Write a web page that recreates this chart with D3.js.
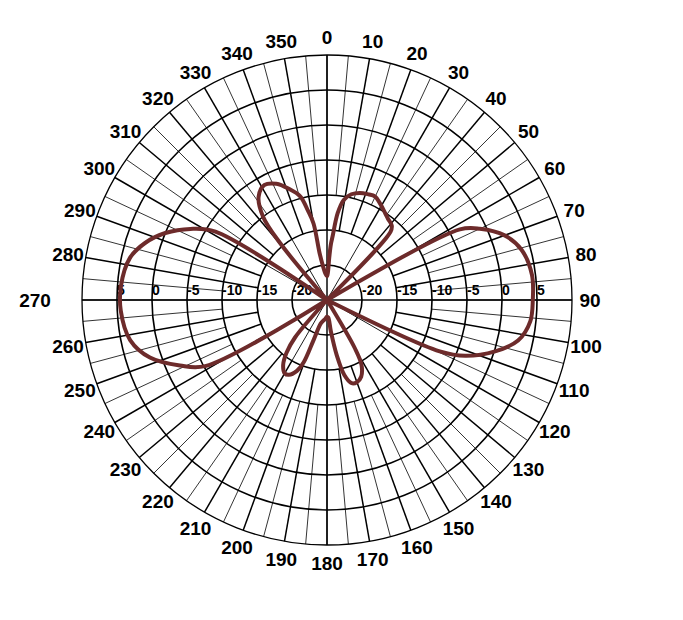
<!DOCTYPE html>
<html><head><meta charset="utf-8">
<script src="https://cdn.jsdelivr.net/npm/d3@7"></script>
<style>body{margin:0;background:#fff}svg{display:block}</style>
</head><body>
<svg id="chart" width="683" height="620"></svg>
<script>
// ---- data ----
const angleTicks = d3.range(0, 360, 10);
const angleTickLabels = angleTicks.map(d => String(d));
const ringValues = [-20, -15, -10, -5, 0, 5, 10];
const ringLabels = ["-20", "-15", "-10", "-5", "0", "5"];
// radiation pattern (degrees, dB); values at or below -25 sit at the centre
const patternAngles = [0, 2, 3, 4, 5, 7, 9.5, 13, 17, 21, 25, 29, 34, 37, 41, 43, 44.5, 52, 60,
  62, 65, 70, 75.5, 83, 90, 96, 102, 107, 112, 114.5, 116.5, 130, 148,
  150, 152, 156, 160, 163.5, 167, 170, 173, 176, 180, 185, 190, 195, 198.5, 200.5, 203, 207, 210, 214, 217.5, 220.5, 223, 232,
  240, 241.5, 246, 252, 258.5, 267, 274, 282, 287.5, 292.5, 297.5, 301.5, 303, 310, 318,
  320.5, 322.5, 326.5, 331.5, 336.5, 341, 345.5, 348, 350, 351, 353, 356.5];
const patternValues = [-21.6, -21, -19, -17, -15.9, -12.5, -10.5, -9.5, -9, -8.8, -8.7, -9.3, -10.1, -10.5, -10.9, -11.7, -25, -25, -25,
  -3.5, -0.9, 2, 3.7, 4.5, 4.4, 4.2, 2.9, 0.1, -3.7, -7.3, -25, -25, -25,
  -17, -14.5, -13, -12.5, -12.6, -14, -17, -20.5, -22.5, -22.6, -22.3, -22, -21.5, -19, -15.5, -14, -13, -12.9, -13.8, -15.5, -18, -25, -25,
  -25, -5.2, -2, 1.6, 3.7, 4.5, 4.5, 3.8, 2.2, 0, -3, -6.3, -25, -25, -25,
  -14.5, -10, -7.3, -6.3, -6.9, -8.2, -9.7, -12, -13.9, -18.2, -20, -21.2];

// ---- layout ----
const svg = d3.select("#chart");
const cx = 327, cy = 300, R = 245;
const rScale = d3.scaleLinear().domain([-25, 10]).range([0, R]);
const aScale = d3.scaleLinear().domain([0, 360]).range([0, 2 * Math.PI]);
const g = svg.append("g").attr("transform", `translate(${cx},${cy})`);
const pt = (ang, rad) => [rad * Math.sin(aScale(ang)), -rad * Math.cos(aScale(ang))];
const FONT = "Liberation Sans, Arial, sans-serif";

// spokes
const spokes = [];
d3.range(0, 360, 30).forEach(a => spokes.push({a, r0: 0, r1: rScale(-15), w: 0.9}));
d3.range(0, 360, 10).forEach(a => spokes.push({a, r0: rScale(-15), r1: R, w: 1.5}));
d3.range(5, 360, 10).forEach(a => spokes.push({a, r0: rScale(-10), r1: R, w: 0.8}));
g.selectAll("line.spoke").data(spokes).join("line").attr("class", "spoke")
  .attr("x1", d => pt(d.a, d.r0)[0]).attr("y1", d => pt(d.a, d.r0)[1])
  .attr("x2", d => pt(d.a, d.r1)[0]).attr("y2", d => pt(d.a, d.r1)[1])
  .attr("stroke", "#000").attr("stroke-width", d => d.w);
[0, 90].forEach(a => {
  g.append("line").attr("x1", pt(a, -R)[0]).attr("y1", pt(a, -R)[1]).attr("x2", pt(a, R)[0]).attr("y2", pt(a, R)[1])
    .attr("stroke", "#000").attr("stroke-width", 1);
});
// rings
g.selectAll("circle.ring").data(ringValues).join("circle").attr("class", "ring")
  .attr("r", d => rScale(d)).attr("fill", "none").attr("stroke", "#000")
  .attr("stroke-width", d => d === 10 ? 1.3 : 1.6);

// ring labels
ringLabels.forEach((lab, i) => {
  const rr = rScale(ringValues[i]);
  [-1, 1].forEach(s => {
    g.append("text").attr("x", s * rr).attr("y", -5).text(lab)
      .attr("font-family", FONT).attr("font-size", 14).attr("font-weight", "bold")
      .attr("text-anchor", "start").attr("fill", "#000");
  });
});

// angle labels
g.selectAll("text.ang").data(angleTicks).join("text").attr("class", "ang")
  .attr("x", d => pt(d, d === 270 ? 292 : 263)[0])
  .attr("y", d => pt(d, d === 270 ? 292 : 263)[1])
  .attr("dy", "0.36em").attr("text-anchor", "middle")
  .attr("font-family", FONT).attr("font-size", 19).attr("font-weight", "bold")
  .attr("fill", "#000").text((d, i) => angleTickLabels[i]);

// pattern
const pts = patternAngles.map((a, i) => ({a, v: patternValues[i]}));
const line = d3.lineRadial().angle(d => aScale(d.a)).radius(d => rScale(Math.max(-25, d.v)))
  .curve(d3.curveCatmullRomClosed.alpha(0.5));
g.append("path").datum(pts).attr("d", line).attr("fill", "none")
  .attr("stroke", "#6d2b2b").attr("stroke-width", 4).attr("stroke-linejoin", "round");
</script>
</body></html>
